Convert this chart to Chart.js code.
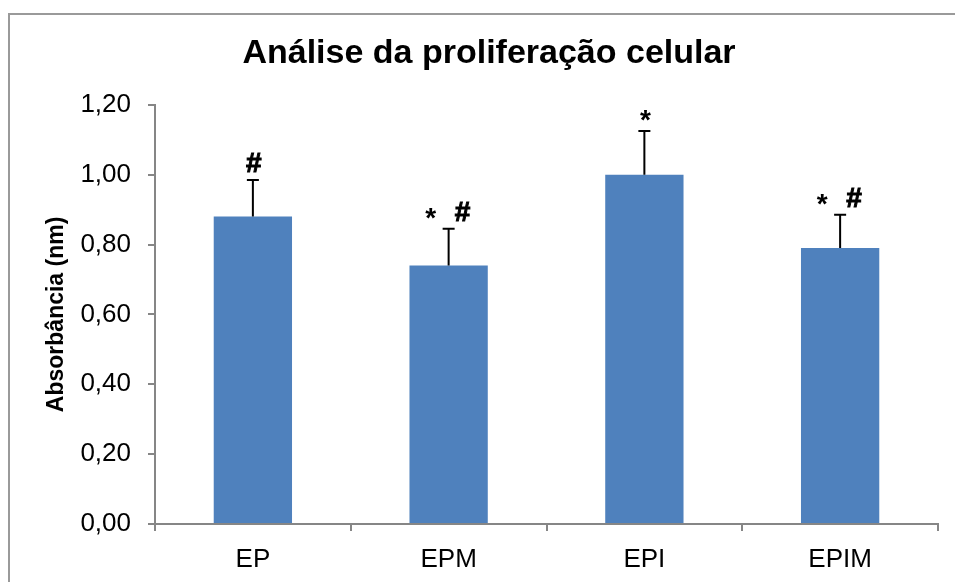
<!DOCTYPE html>
<html>
<head>
<meta charset="utf-8">
<script src="https://cdn.jsdelivr.net/npm/chart.js@4"></script>
<style>
    html, body { margin: 0; padding: 0; background: #fff; overflow: hidden; width: 955px; height: 582px; }
    #frame { position: absolute; left: 8px; top: 13px; width: 2000px; height: 2000px; border: 2px solid #9a9a9a; box-sizing: border-box; }
    #mainChart { position: absolute; left: 0; top: 0; }
</style>
</head>
<body>
<div id="frame"></div>
<canvas id="mainChart" width="955" height="582"></canvas>
<script>
// ==================== dados ====================
const categories = ['EP', 'EPM', 'EPI', 'EPIM'];
const means = [0.88, 0.74, 1.00, 0.79];
const errors = [0.105, 0.105, 0.125, 0.095];
const marks = [['#'], ['*', '#'], ['*'], ['*', '#']];
const yMin = 0;
const yMax = 1.2;
const yStep = 0.2;

const FONT = "'Liberation Sans', Arial, sans-serif";
const AXIS_GREY = '#868686';

// barras de erro (só para cima) + marcadores de significância
const errorBarPlugin = {
    id: 'errorBars',
    afterDatasetsDraw(chart) {
        const ctx = chart.ctx;
        const yScale = chart.scales.y;
        const meta = chart.getDatasetMeta(0);
        ctx.save();
        meta.data.forEach((bar, i) => {
            const x = bar.x;
            const top = yScale.getPixelForValue(means[i] + errors[i]);
            ctx.strokeStyle = '#000';
            ctx.lineWidth = 2;
            ctx.beginPath();
            ctx.moveTo(x, bar.y);
            ctx.lineTo(x, top);
            ctx.moveTo(x - 6, top);
            ctx.lineTo(x + 6, top);
            ctx.stroke();

            // marcadores
            const m = marks[i];
            const centerY = top - 18;
            ctx.fillStyle = '#000';
            ctx.font = 'bold 28px ' + FONT;
            ctx.textAlign = 'center';
            ctx.textBaseline = 'alphabetic';
            const spacing = 32;
            m.forEach((s, k) => {
                const dx = m.length > 1 ? (k - (m.length - 1) / 2) * spacing - 2 : 1;
                const dy = s === '*' ? 16 : 10;
                if (s === '#') {
                    // deixa o # mais encorpado
                    ctx.lineWidth = 1;
                    ctx.strokeText(s, x + dx, centerY + dy);
                }
                ctx.fillText(s, x + dx, centerY + dy);
            });
        });
        ctx.restore();
    }
};

const ctx = document.getElementById('mainChart').getContext('2d');

new Chart(ctx, {
    type: 'bar',
    data: {
        labels: categories,
        datasets: [{
            data: means,
            backgroundColor: '#4F81BD',
            borderWidth: 0,
            categoryPercentage: 1.0,
            barPercentage: 0.4
        }]
    },
    options: {
        responsive: false,
        animation: false,
        devicePixelRatio: 1,
        layout: {
            padding: { left: 40, right: 17, top: 0, bottom: 0 }
        },
        plugins: {
            legend: { display: false },
            tooltip: { enabled: false },
            title: {
                display: true,
                text: 'Análise da proliferação celular',
                color: '#000',
                font: { family: FONT, size: 34, weight: 'bold' },
                padding: { top: 33, bottom: 31 }
            }
        },
        scales: {
            x: {
                offset: true,
                grid: {
                    offset: true,
                    drawOnChartArea: false,
                    drawTicks: true,
                    tickLength: 7,
                    color: AXIS_GREY,
                    lineWidth: 2
                },
                border: { display: true, color: AXIS_GREY, width: 2 },
                ticks: {
                    color: '#000',
                    font: { family: FONT, size: 26 },
                    padding: 13,
                    maxRotation: 0
                },
                afterFit(scale) { scale.height = 58; }
            },
            y: {
                min: yMin,
                max: yMax,
                ticks: {
                    stepSize: yStep,
                    color: '#000',
                    font: { family: FONT, size: 26 },
                    padding: 17,
                    callback: v => v.toFixed(2).replace('.', ',')
                },
                grid: {
                    drawOnChartArea: false,
                    drawTicks: true,
                    tickLength: 7,
                    color: AXIS_GREY,
                    lineWidth: 2
                },
                border: { display: true, color: AXIS_GREY, width: 2 },
                title: {
                    display: true,
                    text: 'Absorbância (nm)',
                    color: '#000',
                    font: { family: FONT, size: 23, weight: 'bold' },
                    padding: { top: 3, bottom: 0 }
                },
                afterFit(scale) { scale.width = 115; }
            }
        }
    },
    plugins: [errorBarPlugin]
});
</script>
</body>
</html>
